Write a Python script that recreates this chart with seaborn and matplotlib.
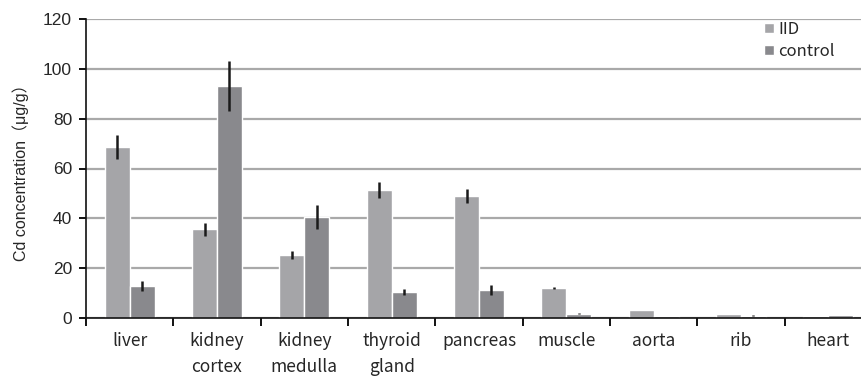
import matplotlib
matplotlib.use("Agg")
import matplotlib.pyplot as plt
import seaborn as sns
import pandas as pd
import numpy as np
from matplotlib.ticker import MultipleLocator, FixedLocator, NullFormatter

# Cd concentration by tissue (mean and error)
tissues = ["liver", "kidney\ncortex", "kidney\nmedulla", "thyroid\ngland",
           "pancreas", "muscle", "aorta", "rib", "heart"]
groups = ["IID", "control"]
iid_mean = [68.7, 35.7, 25.2, 51.3, 49.0, 12.0, 3.2, 1.6, 1.0]
iid_err = [4.7, 2.6, 1.5, 3.2, 2.8, 0.4, 0.0, 0.0, 0.0]
ctrl_mean = [12.9, 93.2, 40.6, 10.4, 11.2, 1.7, 1.0, 1.0, 1.1]
ctrl_err = [2.0, 10.0, 4.7, 1.1, 2.0, 0.2, 0.0, 0.2, 0.0]

colors = {"IID": "#a5a5a8", "control": "#89898d"}

df = pd.DataFrame({
    "tissue": tissues * 2,
    "group": ["IID"] * len(tissues) + ["control"] * len(tissues),
    "value": iid_mean + ctrl_mean,
})
errs = {"IID": iid_err, "control": ctrl_err}

sns.set_style("white")
plt.rcParams["font.family"] = ["Liberation Sans", "Noto Sans CJK JP", "DejaVu Sans"]

fig = plt.figure(figsize=(8.62, 3.76), dpi=100)
ax = fig.add_axes([86 / 862, 58 / 376, 786 / 862, 299 / 376])

sns.barplot(data=df, x="tissue", y="value", hue="group", hue_order=groups,
            order=tissues, palette=colors, width=0.57, gap=0,
            errorbar=None, saturation=1, ax=ax, legend=True, zorder=3)

# error bars from each bar's own position and height
for cont, g in zip(ax.containers, groups):
    xs = [p.get_x() + p.get_width() / 2 for p in cont.patches]
    hs = [p.get_height() for p in cont.patches]
    ax.errorbar(xs, hs, yerr=errs[g], fmt="none", ecolor="#1a1a1a",
                elinewidth=1.8, capsize=0, zorder=4)

ax.set_ylim(0, 120)
ax.set_xlim(-0.5, len(tissues) - 0.5)
ax.yaxis.set_major_locator(MultipleLocator(20))
ax.grid(axis="y", color="#a9a9a9", linewidth=1.6, zorder=0)
ax.set_axisbelow(True)

for s in ["top", "right"]:
    ax.spines[s].set_visible(False)
for s in ["left", "bottom"]:
    ax.spines[s].set_color("#111111")
    ax.spines[s].set_linewidth(1.2)
    ax.spines[s].set_zorder(5)

# category boundaries as major ticks, names as minor tick labels
ax.xaxis.set_major_locator(FixedLocator(np.arange(-0.5, len(tissues), 1.0)))
ax.xaxis.set_major_formatter(NullFormatter())
ax.xaxis.set_minor_locator(FixedLocator(np.arange(len(tissues))))
ax.set_xticklabels(tissues, minor=True, family=["Noto Sans CJK JP", "DejaVu Sans"],
                   fontsize=12.5, linespacing=1.6)
ax.tick_params(axis="x", which="major", direction="out", length=6, width=1.4,
               color="#111111", bottom=True)
ax.tick_params(axis="x", which="minor", length=0, pad=10)
ax.tick_params(axis="y", direction="out", length=5, width=1.4, color="#111111",
               left=True, labelsize=12.5, pad=5)
ax.set_xlabel("")
ax.set_ylabel("Cd concentration（μg/g）", fontsize=11.5, labelpad=10,
              family=["Liberation Sans", "Noto Sans CJK JP"])

handles, labels = ax.get_legend_handles_labels()
ax.legend(handles, labels, loc="upper left", bbox_to_anchor=(764 / 862, 1 - 21 / 376),
          bbox_transform=fig.transFigure, frameon=False, handlelength=0.6,
          handleheight=0.6, handletextpad=0.25, labelspacing=0.3,
          borderpad=0, borderaxespad=0,
          prop={"family": ["Noto Sans CJK JP", "DejaVu Sans"], "size": 12})

fig.savefig("out.png", dpi=100)
